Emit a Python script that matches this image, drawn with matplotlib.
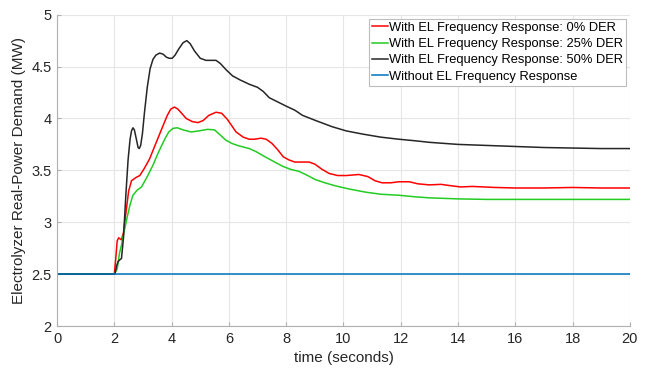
import matplotlib
matplotlib.use("Agg")
import matplotlib.pyplot as plt

plt.rcParams['font.family'] = ['Liberation Sans', 'DejaVu Sans']

# time (s) and demand (MW)
t_0 = [0, 2.0, 2.05, 2.1, 2.15, 2.2, 2.25, 2.32, 2.4, 2.5, 2.6, 2.75, 2.89, 3.05, 3.23,
       3.45, 3.7, 3.85, 3.97, 4.1, 4.22, 4.35, 4.51, 4.72, 4.92, 5.1, 5.3, 5.55, 5.75,
       5.95, 6.25, 6.5, 6.71, 6.9, 7.12, 7.3, 7.5, 7.7, 7.9, 8.1, 8.3, 8.55, 8.8, 9.0,
       9.25, 9.5, 9.8, 10.1, 10.54, 10.85, 11.1, 11.35, 11.65, 11.93, 12.3, 12.6, 13.0,
       13.4, 13.8, 14.1, 14.5, 14.9, 15.3, 16, 17, 18, 19, 20]
p_0 = [2.5, 2.5, 2.65, 2.82, 2.85, 2.84, 2.83, 2.9, 3.08, 3.3, 3.40, 3.43, 3.45, 3.52, 3.61,
       3.76, 3.93, 4.03, 4.09, 4.11, 4.09, 4.05, 4.00, 3.97, 3.96, 3.98, 4.03, 4.06, 4.05,
       3.99, 3.87, 3.82, 3.80, 3.80, 3.81, 3.80, 3.76, 3.70, 3.63, 3.60, 3.58, 3.58, 3.58,
       3.56, 3.51, 3.47, 3.45, 3.45, 3.46, 3.44, 3.40, 3.38, 3.38, 3.39, 3.39, 3.37, 3.36,
       3.365, 3.35, 3.34, 3.345, 3.34, 3.335, 3.33, 3.33, 3.335, 3.33, 3.33]

t_25 = [0, 2.0, 2.1, 2.18, 2.25, 2.35, 2.45, 2.55, 2.65, 2.8, 2.95, 3.15, 3.35, 3.55,
        3.76, 3.9, 4.05, 4.2, 4.4, 4.68, 4.95, 5.26, 5.5, 5.7, 5.9, 6.1, 6.3, 6.5, 6.71,
        6.95, 7.2, 7.4, 7.6, 7.87, 8.15, 8.45, 8.75, 9.03, 9.35, 9.73, 10.2, 10.77, 11.3,
        11.93, 12.5, 13, 14, 15, 16, 18, 20]
p_25 = [2.5, 2.5, 2.55, 2.7, 2.78, 2.92, 3.05, 3.17, 3.26, 3.31, 3.34, 3.44, 3.55, 3.68,
        3.80, 3.87, 3.905, 3.91, 3.89, 3.87, 3.88, 3.895, 3.89, 3.84, 3.79, 3.76, 3.74,
        3.725, 3.71, 3.68, 3.64, 3.61, 3.58, 3.54, 3.51, 3.49, 3.45, 3.41, 3.38, 3.35,
        3.32, 3.29, 3.27, 3.26, 3.245, 3.235, 3.225, 3.22, 3.22, 3.22, 3.22]

t_50 = [0, 2.0, 2.02, 2.08, 2.13, 2.2, 2.25, 2.32, 2.4, 2.48, 2.55, 2.6, 2.65, 2.7, 2.77,
        2.83, 2.87, 2.92, 2.98, 3.05, 3.15, 3.25, 3.35, 3.45, 3.58, 3.7, 3.82, 3.92, 4.02,
        4.12, 4.25, 4.4, 4.53, 4.65, 4.8, 5.0, 5.2, 5.4, 5.55, 5.7, 5.9, 6.13, 6.4, 6.71,
        7.0, 7.2, 7.41, 7.7, 7.99, 8.3, 8.57, 9.03, 9.61, 10.1, 10.66, 11.3, 11.93, 12.5,
        13, 14, 15, 16, 17, 18, 19, 20]
p_50 = [2.5, 2.5, 2.5, 2.58, 2.62, 2.64, 2.65, 2.85, 3.25, 3.6, 3.8, 3.88, 3.91, 3.89,
        3.8, 3.72, 3.71, 3.74, 3.85, 4.05, 4.3, 4.48, 4.57, 4.61, 4.63, 4.62, 4.59, 4.58,
        4.58, 4.61, 4.67, 4.73, 4.75, 4.72, 4.65, 4.58, 4.56, 4.56, 4.56, 4.53, 4.47, 4.41,
        4.37, 4.33, 4.30, 4.26, 4.20, 4.16, 4.12, 4.08, 4.03, 3.98, 3.92, 3.88, 3.85, 3.82,
        3.80, 3.785, 3.77, 3.75, 3.74, 3.73, 3.72, 3.715, 3.71, 3.71]

t_base = [0, 20]
p_base = [2.5, 2.5]

labels = ['With EL Frequency Response: 0% DER',
          'With EL Frequency Response: 25% DER',
          'With EL Frequency Response: 50% DER',
          'Without EL Frequency Response']


def main():
    fig = plt.figure(figsize=(6.51, 3.73), dpi=100)
    ax = fig.add_axes([0.0876, 0.126, 0.880, 0.8346])

    ax.plot(t_0, p_0, color='#ff0000', lw=1.1, label=labels[0])
    ax.plot(t_25, p_25, color='#22cc22', lw=1.1, label=labels[1])
    ax.plot(t_50, p_50, color='#262626', lw=1.1, label=labels[2])
    ax.plot(t_base, p_base, color='#0072bd', lw=1.1, label=labels[3])

    ax.set_xlim(0, 20)
    ax.set_ylim(2, 5)
    ax.set_xticks(range(0, 21, 2))
    ax.set_yticks([2, 2.5, 3, 3.5, 4, 4.5, 5])
    ax.set_yticklabels(['2', '2.5', '3', '3.5', '4', '4.5', '5'])
    ax.grid(True, color='#e6e6e6', lw=0.8)
    ax.set_axisbelow(True)
    for s in ['top', 'right']:
        ax.spines[s].set_visible(False)
    for s in ['left', 'bottom']:
        ax.spines[s].set_color('#b0b0b0')
    ax.tick_params(direction='in', length=3, colors='#b0b0b0', labelcolor='#262626',
                   labelsize=10.5, pad=4)
    ax.set_xlabel('time (seconds)', fontsize=11, color='#262626', labelpad=4)
    ax.set_ylabel('Electrolyzer Real-Power Demand (MW)', fontsize=11, color='#262626')

    leg = ax.legend(loc='upper right', fontsize=9.3, handlelength=1.2, handletextpad=0.1,
                    borderaxespad=0.3, borderpad=0.25, labelspacing=0.33, fancybox=False,
                    framealpha=1)
    leg.get_frame().set_edgecolor('#bdbdbd')
    leg.get_frame().set_linewidth(0.8)

    fig.savefig('out.png', dpi=100)


if __name__ == '__main__':
    main()
